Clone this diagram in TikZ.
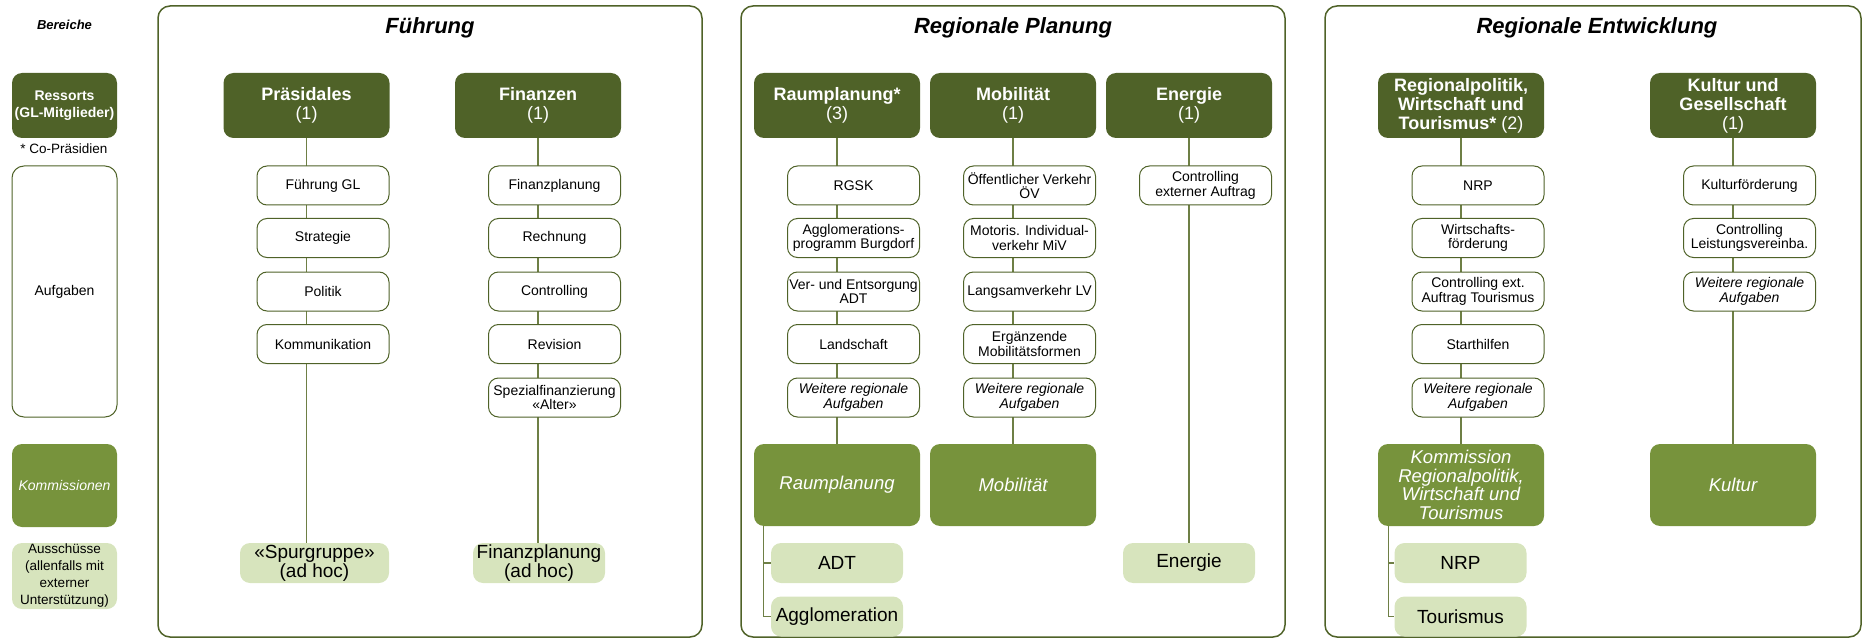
\documentclass[tikz,border=0pt]{standalone}
\usepackage{fontspec}
\setmainfont{Liberation Sans}
\usetikzlibrary{backgrounds}
\definecolor{dkg}{HTML}{4F6228}
\definecolor{mdg}{HTML}{77933C}
\definecolor{ltg}{HTML}{D7E4BD}
\definecolor{lng}{HTML}{6E7F45}
\begin{document}
\begin{tikzpicture}[x=1pt,y=-1pt,
  panel/.style={draw=dkg,line width=1.5pt,rounded corners=12pt},
  ptitle/.style={font=\bfseries\itshape\fontsize{22}{22}\selectfont,inner sep=0pt},
  hdr/.style={fill=dkg,rounded corners=10pt,text=white,align=center,inner sep=0pt,
    minimum width=166pt,minimum height=65pt,font=\bfseries\fontsize{18}{19}\selectfont},
  task/.style={draw=dkg,fill=white,line width=1pt,rounded corners=10pt,align=center,inner sep=0pt,
    minimum width=132pt,minimum height=39pt,font=\fontsize{14}{14.3}\selectfont},
  ttask/.style={task,font=\itshape\fontsize{14}{14.3}\selectfont},
  komm/.style={fill=mdg,rounded corners=10pt,text=white,align=center,inner sep=0pt,
    minimum width=166pt,minimum height=82pt,font=\itshape\fontsize{18.5}{18.7}\selectfont},
  aus/.style={fill=ltg,rounded corners=10pt,align=center,inner sep=0pt,
    minimum width=132pt,minimum height=40pt,font=\fontsize{19}{19}\selectfont},
  conn/.style={draw=lng,line width=1.2pt}]
\useasboundingbox (0,0) rectangle (1863,639);

% panels
\draw[panel] (158,6) rectangle (702,637);
\draw[panel] (741,6) rectangle (1285,637);
\draw[panel] (1325,6) rectangle (1861,637);
\node[ptitle] (t1) at (430,28) {Führung};
\node[ptitle] (t2) at (1013,28) {Regionale Planung};
\node[ptitle] (t3) at (1597,28) {Regionale Entwicklung};

% left legend column
\node[font=\bfseries\itshape\fontsize{13}{13}\selectfont,inner sep=0pt] (ber) at (64.5,25) {Bereiche};
\node[fill=dkg,rounded corners=10pt,text=white,align=center,inner sep=0pt,minimum width=105pt,minimum height=65pt,
  font=\bfseries\fontsize{14}{17}\selectfont] (lres) at (64.5,105.5) {Ressorts\\(GL-Mitglieder)};
\node[font=\fontsize{13.5}{13.5}\selectfont,inner sep=0pt] (lcop) at (64,149) {* Co-Präsidien};
\node[draw=dkg,line width=1pt,rounded corners=12pt,inner sep=0pt,minimum width=105pt,minimum height=251pt,
  font=\fontsize{14}{14}\selectfont] (lauf) at (64.5,291.5) {Aufgaben};
\node[fill=mdg,rounded corners=10pt,text=white,inner sep=0pt,minimum width=105pt,minimum height=83pt,
  font=\itshape\fontsize{14}{14}\selectfont] (lkom) at (64.5,485.5) {Kommissionen};
\node[fill=ltg,rounded corners=10pt,align=center,inner sep=0pt,minimum width=105pt,minimum height=66pt,
  font=\fontsize{13.5}{17}\selectfont] (laus) at (64.5,576) {Ausschüsse\\(allenfalls mit\\externer\\Unterstützung)};

% Führung
\node[hdr] (pra) at (306.5,105.5) {Präsidales\\\mdseries(1)};
\node[task] (pra1) at (323,185.5) {Führung GL};
\node[task] (pra2) at (323,238) {Strategie};
\node[task] (pra3) at (323,291.5) {Politik};
\node[task] (pra4) at (323,344) {Kommunikation};
\node[aus,minimum width=149pt] (spur) at (314.5,563) {«Spurgruppe»\\(ad hoc)};

\node[hdr] (fin) at (538,105.5) {Finanzen\\\mdseries(1)};
\node[task] (fin1) at (554.5,185.5) {Finanzplanung};
\node[task] (fin2) at (554.5,238) {Rechnung};
\node[task] (fin3) at (554.5,291.5) {Controlling};
\node[task] (fin4) at (554.5,344) {Revision};
\node[task] (fin5) at (554.5,397.5) {Spezialfinanzierung\\«Alter»};
\node[aus] (fad) at (539,563) {Finanzplanung\\(ad hoc)};

% Regionale Planung
\node[hdr] (rp) at (837,105.5) {Raumplanung*\\\mdseries(3)};
\node[task] (rp1) at (853.5,185.5) {RGSK};
\node[task] (rp2) at (853.5,238) {Agglomerations-\\programm Burgdorf};
\node[task] (rp3) at (853.5,291.5) {Ver- und Entsorgung\\ADT};
\node[task] (rp4) at (853.5,344) {Landschaft};
\node[ttask] (rp5) at (853.5,397.5) {Weitere regionale\\Aufgaben};
\node[komm] (rpk) at (837,485) {Raumplanung};
\node[aus] (adt) at (837,563) {ADT};
\node[aus] (agg) at (837,616.5) {Agglomeration};

\node[hdr] (mo) at (1013,105.5) {Mobilität\\\mdseries(1)};
\node[task] (mo1) at (1029.5,185.5) {Öffentlicher Verkehr\\ÖV};
\node[task] (mo2) at (1029.5,238) {Motoris. Individual-\\verkehr MiV};
\node[task] (mo3) at (1029.5,291.5) {Langsamverkehr LV};
\node[task] (mo4) at (1029.5,344) {Ergänzende\\Mobilitätsformen};
\node[ttask] (mo5) at (1029.5,397.5) {Weitere regionale\\Aufgaben};
\node[komm] (mok) at (1013,485) {Mobilität};

\node[hdr] (en) at (1189,105.5) {Energie\\\mdseries(1)};
\node[task] (en1) at (1205.5,185.5) {Controlling\\externer Auftrag};
\node[aus] (ena) at (1189,563) {Energie};

% Regionale Entwicklung
\node[hdr] (rw) at (1461,105.5) {Regionalpolitik,\\Wirtschaft und\\Tourismus* {\mdseries(2)}};
\node[task] (rw1) at (1478,185.5) {NRP};
\node[task] (rw2) at (1478,238) {Wirtschafts-\\förderung};
\node[task] (rw3) at (1478,291.5) {Controlling ext.\\Auftrag Tourismus};
\node[task] (rw4) at (1478,344) {Starthilfen};
\node[ttask] (rw5) at (1478,397.5) {Weitere regionale\\Aufgaben};
\node[komm] (rwk) at (1461,485) {Kommission\\Regionalpolitik,\\Wirtschaft und\\Tourismus};
\node[aus] (nrp) at (1460.5,563) {NRP};
\node[aus] (tou) at (1460.5,616.5) {Tourismus};

\node[hdr] (ku) at (1733,105.5) {Kultur und\\Gesellschaft\\\mdseries(1)};
\node[task] (ku1) at (1749.5,185.5) {Kulturförderung};
\node[task] (ku2) at (1749.5,238) {Controlling\\Leistungsvereinba.};
\node[ttask] (ku3) at (1749.5,291.5) {Weitere regionale\\Aufgaben};
\node[komm] (kuk) at (1733,485) {Kultur};

\coordinate (rpb) at ([xshift=10pt]rpk.south west);
\coordinate (rwb) at ([xshift=11pt]rwk.south west);

\begin{scope}[on background layer]
\draw[conn] (pra.south) -- (pra.south |- spur.north);
\draw[conn] (fin.south) -- (fin.south |- fad.north);
\draw[conn] (rp.south) -- (rpk.north);
\draw[conn] (mo.south) -- (mok.north);
\draw[conn] (en.south) -- (en.south |- ena.north);
\draw[conn] (rw.south) -- (rwk.north);
\draw[conn] (ku.south) -- (kuk.north);
\draw[conn] (rpb) |- (adt.west);
\draw[conn] (rpb) |- (agg.west);
\draw[conn] (rwb) |- (nrp.west);
\draw[conn] (rwb) |- (tou.west);
\end{scope}
\end{tikzpicture}
\end{document}
